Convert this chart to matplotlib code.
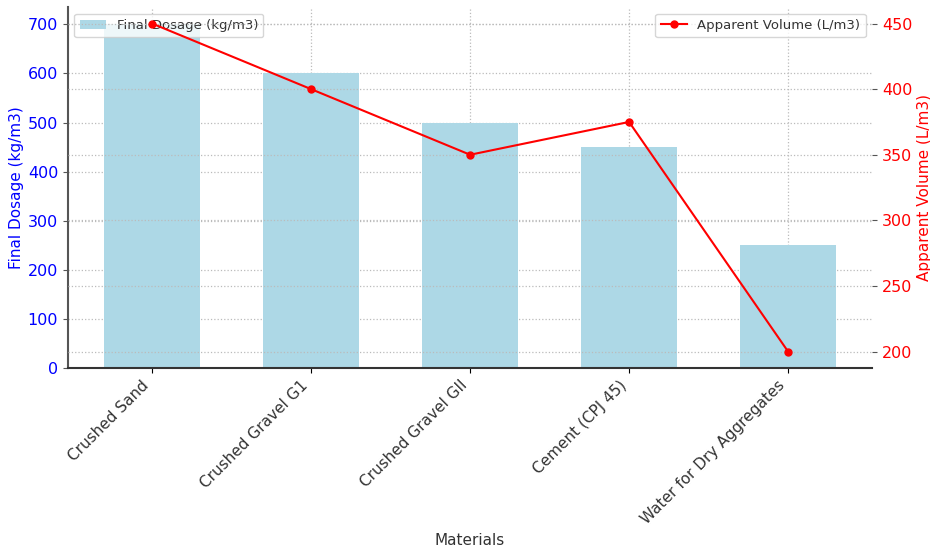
import numpy as np
import matplotlib.pyplot as plt

materials = ["Crushed Sand", "Crushed Gravel G1", "Crushed Gravel GII",
             "Cement (CPJ 45)", "Water for Dry Aggregates"]
final_dosage = [700, 600, 500, 450, 250]
apparent_volume = [450, 400, 350, 375, 200]

fig, ax1 = plt.subplots(figsize=(9.3, 5.5), dpi=100)
fig.subplots_adjust(left=0.073, right=0.938, top=0.987, bottom=0.331)

x = np.arange(len(materials))
ax1.bar(x, final_dosage, width=0.6, color="lightblue", label="Final Dosage (kg/m3)", zorder=1)
ax1.set_ylabel("Final Dosage (kg/m3)", color="blue", fontsize=11, labelpad=3)
ax1.set_xlabel("Materials", color="#333333", fontsize=11)
ax1.tick_params(axis="y", labelsize=11.5, colors="#555555")
for t in ax1.get_yticklabels():
    t.set_color("blue")
ax1.set_xticks(x)
ax1.set_xticklabels(materials, rotation=45, ha="right", fontsize=11, color="#333333")
ax1.grid(True, linestyle=":", color="#bbbbbb", linewidth=0.9)
ax1.set_axisbelow(True)

ax2 = ax1.twinx()
ax2.plot(x, apparent_volume, color="red", marker="o", markersize=5,
         linewidth=1.5, label="Apparent Volume (L/m3)")
ax2.set_ylabel("Apparent Volume (L/m3)", color="red", fontsize=11, labelpad=3)
ax2.tick_params(axis="y", labelsize=11.5, colors="#555555")
for t in ax2.get_yticklabels():
    t.set_color("red")
ax2.grid(True, axis="y", linestyle=":", color="#bbbbbb", linewidth=0.9)

for ax in (ax1, ax2):
    ax.spines["top"].set_visible(False)
    ax.spines["right"].set_visible(False)
ax2.spines["left"].set_visible(False)
ax2.spines["bottom"].set_visible(False)
ax1.spines["left"].set_color("#555555")
ax1.spines["left"].set_linewidth(1.5)
ax1.spines["bottom"].set_color("#333333")
ax1.spines["bottom"].set_linewidth(1.5)

ax1.legend(loc="upper left", fontsize=9.5, labelcolor="#333333")
ax2.legend(loc="upper right", fontsize=9.5, labelcolor="#333333")

fig.savefig("out.png")
